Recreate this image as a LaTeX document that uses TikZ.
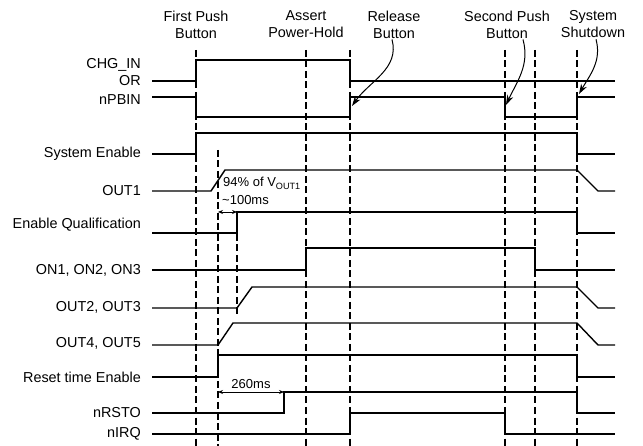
\documentclass[tikz,border=0pt]{standalone}
\usepackage{fontspec}
\setmainfont{Liberation Sans}
\usepackage{tikz}
\usetikzlibrary{arrows.meta,positioning,calc}

\begin{document}
\begin{tikzpicture}[
    x=1pt, y=-1pt,
    font=\fontsize{14.4}{17}\selectfont,
    sig/.style={line width=1.4pt, line join=miter},
    event/.style={line width=2.2pt, dash pattern=on 7pt off 3.5pt},
    siglabel/.style={anchor=east, inner sep=0pt},
    evlabel/.style={align=center, inner sep=0pt},
    note/.style={font=\fontsize{13}{15}\selectfont, inner sep=0pt},
    pointer/.style={-{Stealth[length=10pt,width=6.5pt]}, line width=1pt},
    span/.style={{Stealth[length=5pt,width=4pt]}-{Stealth[length=5pt,width=4pt]}, line width=0.9pt}
]
\useasboundingbox (0,0) rectangle (643,446);

% Event labels
\node[evlabel] (first) at (196,24.5) {First Push\\Button};
\node[evlabel] (hold) at (306,24.5) {Assert\\Power-Hold};
\node[evlabel] (release) at (394,24.5) {Release\\Button};
\node[evlabel] (second) at (507,24.5) {Second Push\\Button};
\node[evlabel] (shutdown) at (593,24.5) {System\\Shutdown};

% Event lines
\foreach \t in {196,306,350,505,535,577}
  \draw[event] (\t,50) -- (\t,446);
\draw[event] (218,150) -- (218,446);
\draw[event] (237,213) -- (237,315);

% Signal names
\node[siglabel] (chg) at (141,65) {CHG\_IN};
\node[siglabel] (or) at (141,81) {OR};
\node[siglabel] (pbin) at (141,100) {nPBIN};
\node[siglabel] (sysen) at (141,154) {System Enable};
\node[siglabel] (out1) at (141,191) {OUT1};
\node[siglabel] (enq) at (141,225) {Enable Qualification};
\node[siglabel] (on) at (141,270) {ON1, ON2, ON3};
\node[siglabel] (out23) at (141,307) {OUT2, OUT3};
\node[siglabel] (out45) at (141,343) {OUT4, OUT5};
\node[siglabel] (rsten) at (141,377) {Reset time Enable};
\node[siglabel] (rsto) at (141,413) {nRSTO};
\node[siglabel] (irq) at (141,434) {nIRQ};

% Waveforms
\draw[sig] (152,81) -- (196,81) -- (196,60) -- (350,60) -- (350,81) -- (615,81);
\draw[sig] (152,97) -- (196,97) -- (196,117) -- (350,117) -- (350,97) -- (505,97)
  -- (505,117) -- (577,117) -- (577,97) -- (615,97);
\draw[sig] (152,154) -- (196,154) -- (196,133) -- (577,133) -- (577,154) -- (615,154);
\draw[sig] (152,191) -- (211,191) -- (225,170) -- (577,170) -- (598,191) -- (615,191);
\draw[sig] (152,233) -- (237,233) -- (237,212) -- (577,212) -- (577,233) -- (615,233);
\draw[sig] (152,270) -- (306,270) -- (306,248) -- (535,248) -- (535,270) -- (615,270);
\draw[sig] (152,308) -- (237,308) -- (252,287) -- (577,287) -- (598,308) -- (615,308);
\draw[sig] (152,345) -- (218,345) -- (233,323) -- (577,323) -- (598,345) -- (615,345);
\draw[sig] (152,377) -- (218,377) -- (218,355) -- (577,355) -- (577,377) -- (615,377);
\draw[sig] (152,413) -- (284,413) -- (284,392) -- (577,392) -- (577,413) -- (615,413);
\draw[sig] (152,434) -- (350,434) -- (350,413) -- (505,413) -- (505,434) -- (615,434);

% Timing notes
\node[note, anchor=base west] (pct) at (223,187) {94\% of V\textsubscript{OUT1}};
\node[note, anchor=base west] (qdly) at (222,205) {\textasciitilde100ms};
\coordinate (qa) at (218,212);
\coordinate (qb) at (237,212);
\draw[span] (qa) -- (qb);
\node[note] (rdly) at (251,384) {260ms};
\coordinate (ra) at (218,392);
\coordinate (rb) at (284,392);
\draw[span] (ra) -- (rb);

% Pointers to edges
\coordinate (reltip) at (352,106);
\coordinate (sectip) at (506,105);
\coordinate (shuttip) at (579,94);
\draw[pointer] ([xshift=-2pt,yshift=-1pt]release.south) to[out=-75, in=55] (reltip);
\draw[pointer] ([xshift=16pt,yshift=-1pt]second.south) to[out=-75, in=65] (sectip);
\draw[pointer] ([xshift=3pt,yshift=-1pt]shutdown.south) to[out=-75, in=60] (shuttip);
\end{tikzpicture}
\end{document}
